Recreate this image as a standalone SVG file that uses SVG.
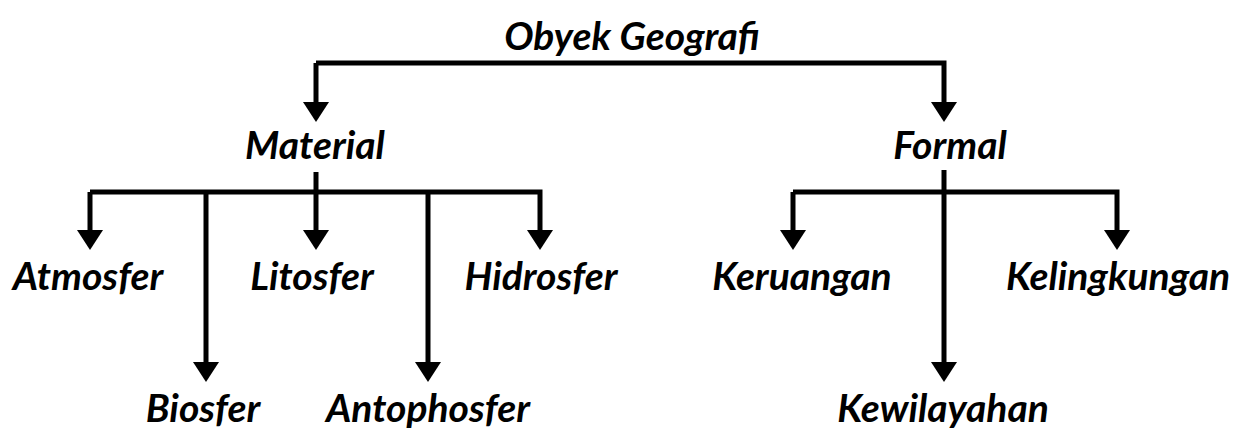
<svg xmlns="http://www.w3.org/2000/svg" width="1245" height="435" viewBox="0 0 1245 435">
<style>
text{font-family:Lato,"Open Sans","Liberation Sans",sans-serif;font-style:italic;font-weight:700;font-size:39px;fill:#000;text-anchor:middle}
.c{fill:none;stroke:#000;stroke-width:5;stroke-linejoin:miter;stroke-linecap:butt}
</style>
<defs>
<marker id="ah" markerUnits="userSpaceOnUse" markerWidth="20" markerHeight="26" refX="8" refY="13" orient="auto" viewBox="0 0 20 26">
<path d="M0,0 L20,13 L0,26 Z" fill="#000"/>
</marker>
</defs>
<rect width="1245" height="435" fill="#fff"/>
<g id="connectors">
<path class="c" d="M316,63 H944 V110" marker-end="url(#ah)"/>
<path class="c" d="M316,63 V110" marker-end="url(#ah)"/>
<path class="c" d="M316,172 V192"/>
<path class="c" d="M90,192 H540 V238" marker-end="url(#ah)"/>
<path class="c" d="M90,192 V238" marker-end="url(#ah)"/>
<path class="c" d="M316,192 V238" marker-end="url(#ah)"/>
<path class="c" d="M206,192 V370" marker-end="url(#ah)"/>
<path class="c" d="M428,192 V370" marker-end="url(#ah)"/>
<path class="c" d="M944,170 V370" marker-end="url(#ah)"/>
<path class="c" d="M793,192 H1117 V238" marker-end="url(#ah)"/>
<path class="c" d="M793,192 V238" marker-end="url(#ah)"/>
</g>
<g id="obyek"><text x="632" y="50">Obyek Geografi</text></g>
<g id="material"><text x="315" y="159">Material</text></g>
<g id="formal"><text x="950" y="159">Formal</text></g>
<g id="atmosfer"><text x="88" y="290">Atmosfer</text></g>
<g id="litosfer"><text x="312" y="290">Litosfer</text></g>
<g id="hidrosfer"><text x="541" y="290">Hidrosfer</text></g>
<g id="biosfer"><text x="203" y="422">Biosfer</text></g>
<g id="antophosfer"><text x="428" y="422">Antophosfer</text></g>
<g id="keruangan"><text x="802" y="290">Keruangan</text></g>
<g id="kelingkungan"><text x="1118" y="290">Kelingkungan</text></g>
<g id="kewilayahan"><text x="943" y="422">Kewilayahan</text></g>
</svg>
